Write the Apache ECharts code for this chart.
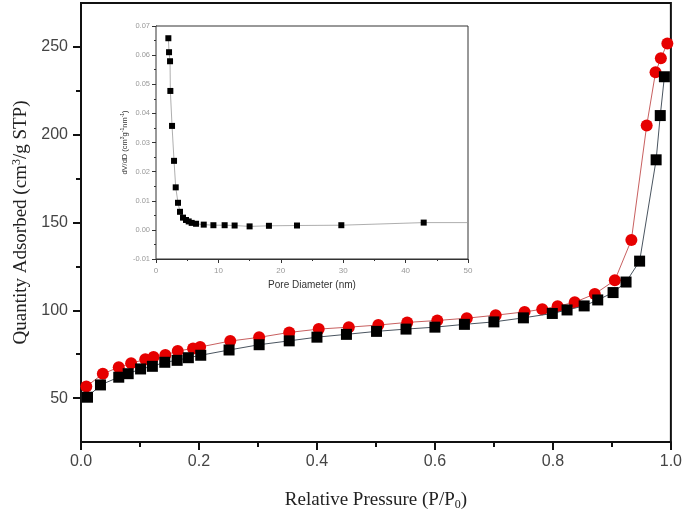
<!DOCTYPE html>
<html>
<head>
<meta charset="utf-8">
<script src="https://cdn.jsdelivr.net/npm/echarts@6/dist/echarts.min.js"></script>
<style>html,body{margin:0;padding:0;background:#fff}#c{width:685px;height:516px}</style>
</head>
<body>
<div id="c"></div>
<script>
// Main isotherm data (Relative pressure P/P0 vs quantity adsorbed)
const pressureRed = [0.009,0.037,0.064,0.085,0.109,0.123,0.143,0.164,0.190,0.202,0.253,0.302,0.353,0.403,0.454,0.504,0.553,0.604,0.654,0.703,0.752,0.782,0.808,0.837,0.871,0.905,0.933,0.959,0.974,0.983,0.994];
const quantityRed = [56.6,63.8,67.6,69.8,72.1,73.4,74.5,76.8,78.3,79.1,82.5,84.6,87.4,89.3,90.4,91.6,93.1,94.2,95.5,97.2,99.1,100.6,102.3,104.6,109.3,117.1,140.0,205.2,235.5,243.5,252.0];
const pressureBlack = [0.011,0.033,0.064,0.080,0.101,0.121,0.142,0.163,0.182,0.203,0.251,0.302,0.353,0.400,0.450,0.501,0.551,0.600,0.650,0.700,0.750,0.799,0.824,0.853,0.876,0.902,0.924,0.947,0.975,0.982,0.989];
const quantityBlack = [50.5,57.5,61.9,63.9,66.6,68.1,70.4,71.5,73.0,74.4,77.4,80.4,82.6,84.7,86.3,88.0,89.3,90.4,92.0,93.4,95.7,98.2,100.2,102.5,105.9,110.1,116.1,128.0,185.7,210.9,233.0];
// Inset: pore size distribution
const poreDiameter = [1.98,2.09,2.25,2.30,2.57,2.89,3.16,3.53,3.85,4.33,4.81,5.24,5.72,6.42,7.65,9.20,11.0,12.6,15.0,18.1,22.6,29.7,42.9];
const dVdD = [0.0658,0.0610,0.0579,0.0477,0.0357,0.0237,0.0146,0.0093,0.0062,0.0042,0.0034,0.0029,0.0024,0.0021,0.0018,0.0016,0.0016,0.0015,0.0012,0.0014,0.0015,0.0016,0.0025];
// Line continuation beyond last point to the inset edge
const tailDiameter = [42.9, 50];
const tailDVdD = [0.0025, 0.0025];
// Tick labels
const mainYMajor = [50,100,150,200,250];
const mainYMinor = [75,125,175,225];

const zip = (a, b) => a.map((v, i) => [v, b[i]]);

const chart = echarts.init(document.getElementById('c'));
chart.setOption({
  animation: false,
  backgroundColor: '#fff',
  grid: [
    {left: 81, top: 3, right: 14, bottom: 73, show: true, borderColor: '#111', borderWidth: 2, backgroundColor: 'transparent'},
    {left: 156, top: 26, right: 217, bottom: 257, show: true, borderColor: '#333', borderWidth: 1, backgroundColor: '#fff', z: 5}
  ],
  xAxis: [
    {gridIndex: 0, type: 'value', min: 0, max: 1, interval: 0.2,
     axisLine: {onZero: false, lineStyle: {color: '#111', width: 2}},
     axisTick: {length: 8, lineStyle: {color: '#111', width: 2}},
     minorTick: {show: true, splitNumber: 2, length: 5, lineStyle: {color: '#111', width: 2}},
     splitLine: {show: false},
     axisLabel: {formatter: v => v.toFixed(1), fontSize: 16, color: '#444', fontFamily: 'Liberation Sans', margin: 12},
     name: 'Relative Pressure (P/P{sub|0})', nameLocation: 'middle', nameGap: 47,
     nameTextStyle: {fontFamily: 'Liberation Serif', fontSize: 19, color: '#222',
       rich: {sub: {fontFamily: 'Liberation Serif', fontSize: 12, color: '#222', verticalAlign: 'bottom', padding: [10,0,0,0]}}}
    },
    {gridIndex: 1, type: 'value', min: 0, max: 50, interval: 10,
     axisLine: {onZero: false, lineStyle: {color: '#333', width: 1}},
     axisTick: {length: 4, lineStyle: {color: '#333'}},
     minorTick: {show: true, splitNumber: 2, length: 2, lineStyle: {color: '#333'}},
     splitLine: {show: false},
     axisLabel: {fontSize: 8, color: '#999', fontFamily: 'Liberation Sans', margin: 8},
     name: 'Pore Diameter (nm)', nameLocation: 'middle', nameGap: 21,
     nameTextStyle: {fontFamily: 'Liberation Sans', fontSize: 10, color: '#333'}
    }
  ],
  yAxis: [
    {gridIndex: 0, type: 'value', position: 'left', min: 25, max: 275, interval: 25,
     axisLine: {onZero: false, lineStyle: {color: '#111', width: 2}},
     axisTick: {length: 8, customValues: mainYMajor, lineStyle: {color: '#111', width: 2}},
     splitLine: {show: false},
     axisLabel: {customValues: mainYMajor, fontSize: 16, color: '#444', fontFamily: 'Liberation Sans', margin: 13},
     name: 'Quantity Adsorbed (cm{sup|3}/g STP)', nameLocation: 'middle', nameGap: 50,
     nameTextStyle: {fontFamily: 'Liberation Serif', fontSize: 19, color: '#222',
       rich: {sup: {fontFamily: 'Liberation Serif', fontSize: 12, color: '#222', verticalAlign: 'top', padding: [0,0,8,0]}}}
    },
    {gridIndex: 0, type: 'value', position: 'left', offset: 0, min: 25, max: 275, interval: 25,
     axisLine: {show: false, onZero: false},
     axisTick: {length: 5, customValues: mainYMinor, lineStyle: {color: '#111', width: 2}},
     axisLabel: {show: false}, splitLine: {show: false}
    },
    {gridIndex: 1, type: 'value', min: -0.01, max: 0.07, interval: 0.01,
     axisLine: {onZero: false, lineStyle: {color: '#333', width: 1}},
     axisTick: {length: 4, lineStyle: {color: '#333'}},
     minorTick: {show: true, splitNumber: 2, length: 2, lineStyle: {color: '#333'}},
     splitLine: {show: false},
     axisLabel: {formatter: v => v.toFixed(2), fontSize: 7.5, color: '#999', fontFamily: 'Liberation Sans', margin: 6},
     name: 'dV/dD (cm{s|3}g{s|-1}nm{s|-1})', nameLocation: 'middle', nameGap: 27,
     nameTextStyle: {fontFamily: 'Liberation Sans', fontSize: 7.5, color: '#333',
       rich: {s: {fontSize: 5, color: '#333', verticalAlign: 'top', padding: [0,0,4,0]}}}
    }
  ],
  series: [
    {type: 'line', xAxisIndex: 0, yAxisIndex: 0, data: zip(pressureRed, quantityRed),
     symbol: 'circle', symbolSize: 12, itemStyle: {color: '#e60000'},
     lineStyle: {color: '#c86060', width: 1}, z: 3},
    {type: 'line', xAxisIndex: 0, yAxisIndex: 0, data: zip(pressureBlack, quantityBlack),
     symbol: 'rect', symbolSize: 11, itemStyle: {color: '#000'},
     lineStyle: {color: '#4a5560', width: 1}, z: 4},
    {type: 'line', xAxisIndex: 1, yAxisIndex: 2, data: zip(tailDiameter, tailDVdD),
     showSymbol: false, symbol: 'none',
     lineStyle: {color: '#999', width: 0.8}, z: 9},
    {type: 'line', xAxisIndex: 1, yAxisIndex: 2, data: zip(poreDiameter, dVdD),
     symbol: 'rect', symbolSize: 6, itemStyle: {color: '#000'},
     lineStyle: {color: '#999', width: 0.8}, z: 10}
  ]
});
</script>
</body>
</html>
